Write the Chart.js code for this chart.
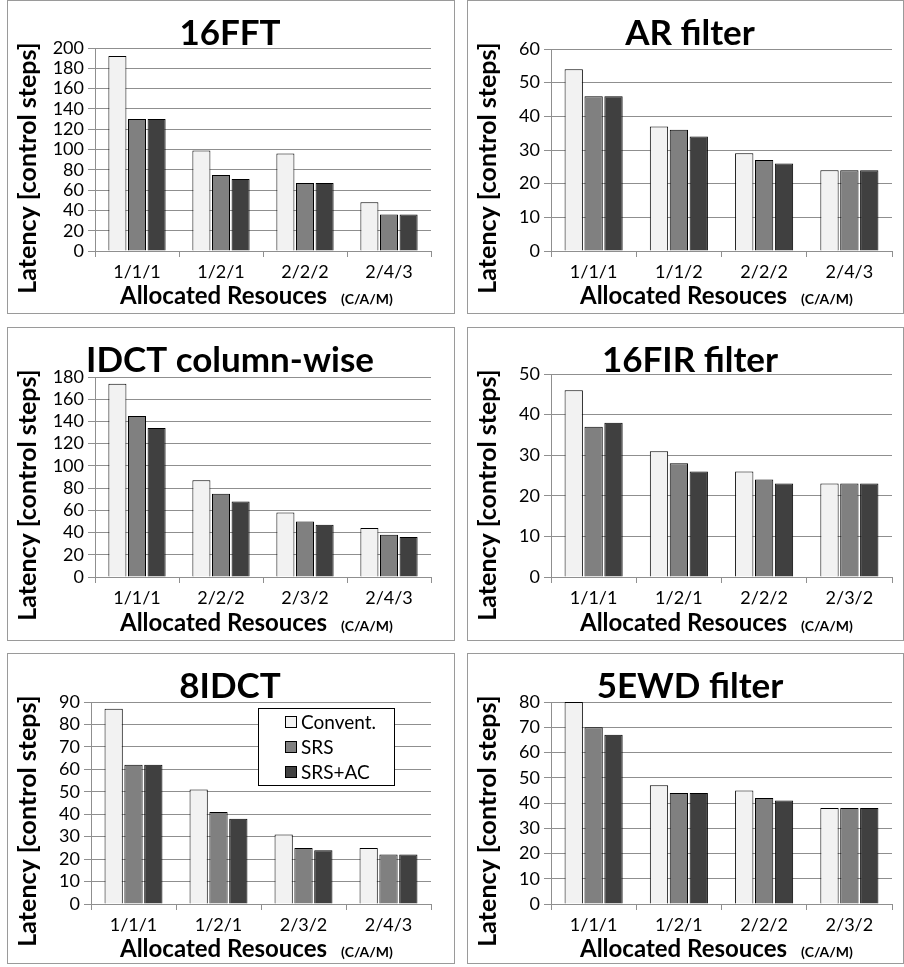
<!DOCTYPE html>
<html><head><meta charset="utf-8">
<script src="https://cdn.jsdelivr.net/npm/chart.js@4/dist/chart.umd.min.js"></script>
<style>
html,body{margin:0;padding:0;background:#fff;}
body{width:904px;height:967px;position:relative;overflow:hidden;}
.panel{position:absolute;box-sizing:border-box;border:1px solid #9a9a9a;}
.panel canvas{position:absolute;left:-1px;top:-1px;}
</style></head><body>
<script>
// ---------- data ----------
const SERIES = ['Convent.', 'SRS', 'SRS+AC'];
const Y_TITLE = 'Latency [control steps]';
const X_TITLE = 'Allocated Resouces';
const X_UNIT = '(C/A/M)';

const fftTitle = '16FFT';
const fftCategories = ['1/1/1', '1/2/1', '2/2/2', '2/4/3'];
const fftConvent = [192, 99, 96, 48];
const fftSRS = [130, 75, 67, 36];
const fftSRSAC = [130, 71, 67, 36];
const fftTicks = [0, 200, 20];

const arTitle = 'AR filter';
const arCategories = ['1/1/1', '1/1/2', '2/2/2', '2/4/3'];
const arConvent = [54, 37, 29, 24];
const arSRS = [46, 36, 27, 24];
const arSRSAC = [46, 34, 26, 24];
const arTicks = [0, 60, 10];

const idctColTitle = 'IDCT column-wise';
const idctColCategories = ['1/1/1', '2/2/2', '2/3/2', '2/4/3'];
const idctColConvent = [174, 87, 58, 44];
const idctColSRS = [145, 75, 50, 38];
const idctColSRSAC = [134, 68, 47, 36];
const idctColTicks = [0, 180, 20];

const firTitle = '16FIR filter';
const firCategories = ['1/1/1', '1/2/1', '2/2/2', '2/3/2'];
const firConvent = [46, 31, 26, 23];
const firSRS = [37, 28, 24, 23];
const firSRSAC = [38, 26, 23, 23];
const firTicks = [0, 50, 10];

const idct8Title = '8IDCT';
const idct8Categories = ['1/1/1', '1/2/1', '2/3/2', '2/4/3'];
const idct8Convent = [87, 51, 31, 25];
const idct8SRS = [62, 41, 25, 22];
const idct8SRSAC = [62, 38, 24, 22];
const idct8Ticks = [0, 90, 10];

const ewdTitle = '5EWD filter';
const ewdCategories = ['1/1/1', '1/2/1', '2/2/2', '2/3/2'];
const ewdConvent = [80, 47, 45, 38];
const ewdSRS = [70, 44, 42, 38];
const ewdSRSAC = [67, 44, 41, 38];
const ewdTicks = [0, 80, 10];

// ---------- styling ----------
const FILLS = ['#f2f2f2', '#808080', '#404040'];
const GRID = '#8f8f8f';
const FONT = 'Lato';

const panelText = {
  id: 'panelText',
  afterDraw(chart, args, o) {
    const ctx = chart.ctx;
    ctx.save();
    ctx.fillStyle = '#000';
    ctx.textBaseline = 'alphabetic';
    // main title
    ctx.font = 'bold 35px ' + FONT;
    ctx.textAlign = 'center';
    ctx.fillText(o.title, o.titleX, o.titleY);
    // y title
    ctx.save();
    ctx.translate(o.yTitleX, o.yTitleY);
    ctx.rotate(-Math.PI / 2);
    ctx.font = 'bold 25px ' + FONT;
    ctx.textAlign = 'center';
    ctx.textBaseline = 'middle';
    ctx.fillText(Y_TITLE, 0, 0);
    ctx.restore();
    // x title
    ctx.textAlign = 'left';
    ctx.font = 'bold 24px ' + FONT;
    ctx.fillText(X_TITLE, o.xTitleX, o.xTitleY);
    const w = ctx.measureText(X_TITLE).width;
    ctx.font = 'bold 14px ' + FONT;
    ctx.fillText(X_UNIT, o.xTitleX + w + 14, o.xTitleY);
    // legend
    if (o.legend) {
      const L = o.legend;
      ctx.fillStyle = '#fff';
      ctx.fillRect(L.x, L.y, L.w, L.h);
      ctx.strokeStyle = '#000';
      ctx.lineWidth = 1;
      ctx.strokeRect(L.x + 0.5, L.y + 0.5, L.w - 1, L.h - 1);
      ctx.font = '19px ' + FONT;
      ctx.textBaseline = 'middle';
      chart.data.datasets.forEach((ds, i) => {
        const cy = L.y + L.row0 + i * L.rowH;
        ctx.fillStyle = ds.backgroundColor;
        ctx.fillRect(L.x + L.sq0, cy - 6, 12, 12);
        ctx.strokeStyle = '#000';
        ctx.strokeRect(L.x + L.sq0 + 0.5, cy - 5.5, 11, 11);
        ctx.fillStyle = '#000';
        ctx.fillText(ds.label, L.x + L.sq0 + 16, cy + 1);
      });
    }
    ctx.restore();
  }
};

function makePanel(p, title, cats, conv, srs, srsac, ticks, legend) {
  const div = document.createElement('div');
  div.className = 'panel';
  div.style.left = p.x + 'px'; div.style.top = p.y + 'px';
  div.style.width = p.w + 'px'; div.style.height = p.h + 'px';
  const cv = document.createElement('canvas');
  cv.width = p.w; cv.height = p.h;
  cv.style.width = p.w + 'px'; cv.style.height = p.h + 'px';
  div.appendChild(cv);
  document.body.appendChild(div);
  const series = [conv, srs, srsac];
  new Chart(cv.getContext('2d'), {
    type: 'bar',
    data: {
      labels: cats,
      datasets: series.map((d, i) => ({
        label: SERIES[i], data: d,
        backgroundColor: FILLS[i], borderColor: '#000', borderWidth: 1,
        barPercentage: 0.92, categoryPercentage: 0.7
      }))
    },
    options: {
      responsive: false, animation: false, events: [],
      layout: { padding: { top: p.T, right: p.w - p.R, left: 0, bottom: 0 } },
      plugins: {
        legend: { display: false }, tooltip: { enabled: false },
        panelText: {
          title: title, titleX: 223, titleY: 45,
          yTitleX: 21, yTitleY: 168,
          xTitleX: 113, xTitleY: 304,
          legend: legend
        }
      },
      scales: {
        x: {
          grid: { display: true, drawOnChartArea: false, drawTicks: true, tickLength: 6, color: GRID, offset: true },
          border: { display: true, color: GRID },
          ticks: { font: { family: FONT, size: 18 }, color: '#000', padding: 4, maxRotation: 0 },
          afterFit(s) { s.height = p.h - p.B; }
        },
        y: {
          min: ticks[0], max: ticks[1],
          grid: { color: GRID, tickLength: 7 },
          border: { display: true, color: GRID },
          ticks: { stepSize: ticks[2], autoSkip: false, font: { family: FONT, size: 18 }, color: '#000', padding: 4 },
          afterFit(s) { s.width = p.L; }
        }
      }
    },
    plugins: [panelText]
  });
}

function build() {
  makePanel({ x: 7, y: 0, w: 448, h: 314, L: 88, T: 48, R: 424, B: 251 },
    fftTitle, fftCategories, fftConvent, fftSRS, fftSRSAC, fftTicks);
  makePanel({ x: 467, y: 0, w: 437, h: 314, L: 84, T: 49, R: 425, B: 251 },
    arTitle, arCategories, arConvent, arSRS, arSRSAC, arTicks);
  makePanel({ x: 7, y: 327, w: 448, h: 314, L: 88, T: 50, R: 424, B: 250 },
    idctColTitle, idctColCategories, idctColConvent, idctColSRS, idctColSRSAC, idctColTicks);
  makePanel({ x: 467, y: 327, w: 437, h: 314, L: 84, T: 47, R: 425, B: 250 },
    firTitle, firCategories, firConvent, firSRS, firSRSAC, firTicks);
  makePanel({ x: 7, y: 653, w: 448, h: 311, L: 84, T: 49, R: 424, B: 251 },
    idct8Title, idct8Categories, idct8Convent, idct8SRS, idct8SRSAC, idct8Ticks,
    { x: 251, y: 55, w: 137, h: 78, sq0: 27, row0: 14, rowH: 25 });
  makePanel({ x: 467, y: 653, w: 437, h: 311, L: 84, T: 49, R: 425, B: 251 },
    ewdTitle, ewdCategories, ewdConvent, ewdSRS, ewdSRSAC, ewdTicks);
}

if (document.fonts && document.fonts.load) {
  Promise.all([
    document.fonts.load('bold 35px Lato'),
    document.fonts.load('18px Lato')
  ]).then(build, build);
} else { build(); }
</script>
</body></html>
